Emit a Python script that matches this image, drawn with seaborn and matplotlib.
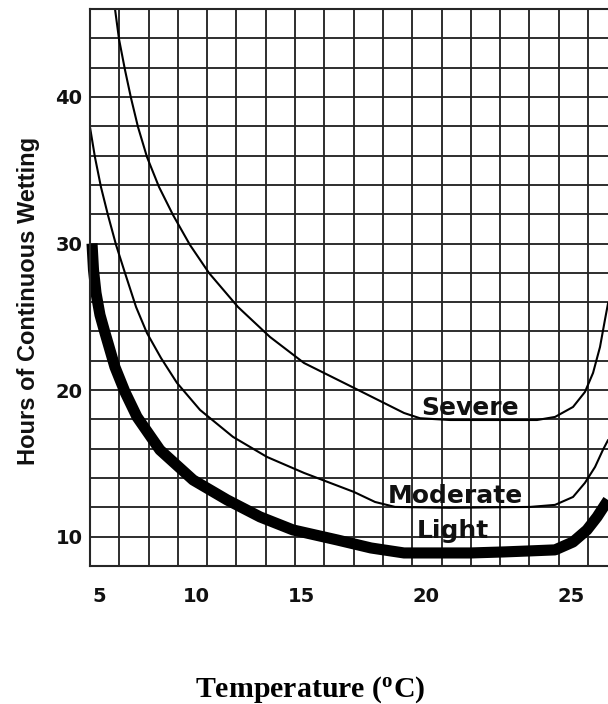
import numpy as np
import pandas as pd
import matplotlib
matplotlib.use("Agg")
import matplotlib.pyplot as plt
import seaborn as sns
from matplotlib.ticker import FixedLocator, MultipleLocator, NullFormatter
from matplotlib import font_manager as fm

# ---------------- data ----------------
severe_temp = [5.825, 6.031, 6.340, 6.649, 7.010, 7.474, 8.093, 8.814, 9.691, 10.619, 12.0,
               13.52, 15.12, 17.12, 19.12, 19.76, 20.83, 22.55, 23.83, 24.45, 25.07, 25.48,
               25.76, 26.0, 26.17, 26.28]
severe_hours = [46.0, 43.95, 41.84, 39.93, 37.95, 35.90, 33.86, 31.95, 29.90, 27.99, 25.67,
                23.63, 21.85, 20.15, 18.44, 18.08, 17.96, 17.96, 17.96, 18.17, 18.85, 19.87,
                21.17, 22.94, 24.79, 25.95]

moderate_temp = [4.54, 4.79, 5.10, 5.46, 5.88, 6.34, 6.91, 7.47, 8.196, 9.02, 10.19, 11.76,
                 13.38, 15.12, 17.12, 17.96, 18.76, 20.83, 23.59, 24.45, 25.07, 25.48,
                 25.83, 26.10, 26.28]
moderate_hours = [37.9, 35.90, 33.86, 31.95, 29.90, 27.99, 25.67, 23.90, 22.19, 20.49, 18.65,
                  16.81, 15.44, 14.35, 13.05, 12.37, 12.03, 11.97, 12.03, 12.17, 12.71, 13.67,
                  14.76, 15.92, 16.6]

light_temp = [4.64, 4.716, 4.845, 5.05, 5.31, 5.82, 6.34, 6.96, 8.14, 9.85, 11.48, 13.05,
              14.62, 16.44, 17.80, 19.12, 20.38, 21.55, 22.69, 23.59, 24.45, 25.07, 25.55,
              25.90, 26.17, 26.28]
light_hours = [30.0, 28.2, 26.63, 25.13, 23.90, 21.58, 19.87, 18.17, 15.92, 13.87, 12.51,
               11.35, 10.46, 9.78, 9.23, 8.89, 8.89, 8.89, 8.96, 9.03, 9.10, 9.64, 10.46,
               11.35, 12.17, 12.5]

x_ticks = [5, 10, 15, 20, 25]
y_ticks = [10, 20, 30, 40]

series_names = ["Severe", "Moderate", "Light"]
label_temp = [21.52, 21.03, 20.93]
label_hours = [18.3, 12.3, 9.92]

# ---------------- non-uniform temperature scale of the original scan ----------------
K_T = np.array([5.0, 10.0, 15.0, 20.0, 25.0])
K_P = np.array([99.0, 196.0, 301.0, 426.0, 571.0])
_s0 = (K_P[1] - K_P[0]) / (K_T[1] - K_T[0])
_s1 = (K_P[-1] - K_P[-2]) / (K_T[-1] - K_T[-2])


def _fwd(t):
    t = np.asarray(t, dtype=float)
    return np.where(t < K_T[0], K_P[0] + (t - K_T[0]) * _s0,
                    np.where(t > K_T[-1], K_P[-1] + (t - K_T[-1]) * _s1,
                             np.interp(t, K_T, K_P)))


def _inv(p):
    p = np.asarray(p, dtype=float)
    return np.where(p < K_P[0], K_T[0] + (p - K_P[0]) / _s0,
                    np.where(p > K_P[-1], K_T[-1] + (p - K_P[-1]) / _s1,
                             np.interp(p, K_P, K_T)))


# ---------------- style ----------------
sns.set_style("white")
plt.rcParams["font.family"] = ["DejaVu Sans"]
plt.rcParams["mathtext.fontset"] = "custom"
plt.rcParams["mathtext.rm"] = "Liberation Serif:bold"
plt.rcParams["mathtext.it"] = "Liberation Serif:bold"
plt.rcParams["mathtext.bf"] = "Liberation Serif:bold"

names = {f.name for f in fm.fontManager.ttflist}
if "Liberation Sans Narrow" in names:
    ylab_family, ylab_size = "Liberation Sans Narrow", 21
else:
    ylab_family, ylab_size = "Liberation Sans", 17

GRID_C = "#262626"
GRID_LW = 1.35

fig = plt.figure(figsize=(6.08, 7.04), dpi=100)
W, H = 608.0, 704.0
rect = [90 / W, 1 - 566 / H, (608 - 90) / W, (566 - 9) / H]
ax = fig.add_axes(rect)

ax.set_xscale("function", functions=(_fwd, _inv))
ax.set_xlim(4.536, 26.276)
ax.set_ylim(8, 46)

# vertical grid of the scanned paper (uniform in page space)
ax2 = ax.twiny()
ax2.set_xlim(0, (608 - 90) / 29.3)
ax2.xaxis.set_major_locator(MultipleLocator(1))
ax2.xaxis.set_major_formatter(NullFormatter())
ax2.tick_params(axis="x", length=0)
ax2.grid(True, axis="x", color=GRID_C, linewidth=GRID_LW)
ax2.grid(False, axis="y")
for s in ax2.spines.values():
    s.set_visible(False)
ax2.set_zorder(0)
ax.set_zorder(1)
ax.patch.set_visible(False)

# horizontal grid
ax.yaxis.set_major_locator(FixedLocator(y_ticks))
ax.yaxis.set_minor_locator(MultipleLocator(2))
ax.grid(True, axis="y", which="both", color=GRID_C, linewidth=GRID_LW)
ax.grid(False, axis="x")

# curves
sns.lineplot(x=severe_temp, y=severe_hours, ax=ax, color="black", linewidth=1.5)
sns.lineplot(x=moderate_temp, y=moderate_hours, ax=ax, color="black", linewidth=1.5)
sns.lineplot(x=light_temp, y=light_hours, ax=ax, color="black", linewidth=8,
             solid_capstyle="butt", solid_joinstyle="round", clip_on=False)

for name, tx, hy in zip(series_names, label_temp, label_hours):
    ax.text(tx, hy, name, ha="center", va="baseline", fontsize=18,
            fontweight="bold", color="#111111", family="DejaVu Sans", zorder=5)

# ticks
ax.xaxis.set_major_locator(FixedLocator(x_ticks))
ax.xaxis.set_minor_locator(FixedLocator([]))
ax.set_xticklabels([str(v) for v in x_ticks])
ax.set_yticklabels([str(v) for v in y_ticks])
ax.tick_params(axis="x", which="both", length=0, pad=15, labelsize=14)
ax.tick_params(axis="y", which="both", length=0, pad=5.5, labelsize=14)
for lab in ax.get_xticklabels() + ax.get_yticklabels():
    lab.set_fontweight("bold")
    lab.set_color("#111111")

# spines
for side in ["left", "bottom", "top"]:
    ax.spines[side].set_visible(True)
    ax.spines[side].set_color(GRID_C)
    ax.spines[side].set_linewidth(1.5)
ax.spines["right"].set_visible(False)

ax.set_xlabel("")
ax.set_ylabel("Hours of Continuous Wetting", family=ylab_family, fontsize=ylab_size,
              fontweight="bold", color="#111111")
ax.yaxis.set_label_coords((40 - 90) / 518, 1 - (301 - 9) / 557)

fig.text(310 / W, 1 - 690 / H, r"Temperature ($^{\rm o}$C)", ha="center", va="center",
         family="Liberation Serif", fontweight="bold", fontsize=21.5, color="black")

fig.savefig("out.png", dpi=100, facecolor="white")
